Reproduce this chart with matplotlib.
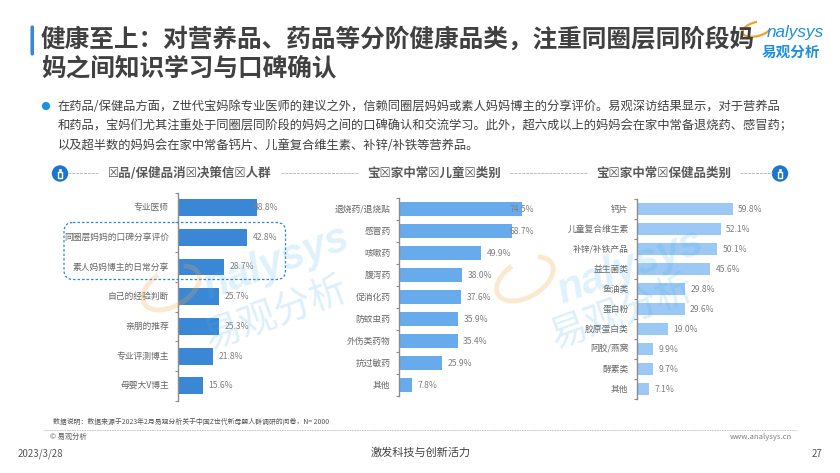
import matplotlib
matplotlib.use("Agg")
import matplotlib.pyplot as plt
from matplotlib.patches import Arc, Circle, FancyBboxPatch, Rectangle

plt.rcParams["font.family"] = ["Noto Sans CJK SC", "DejaVu Sans"]

W, H = 840, 473

# Dados
medico_cats = ["专业医师", "同圈层妈妈的口碑分享评价", "素人妈妈博主的日常分享", "自己的经验判断",
               "亲朋的推荐", "专业评测博主", "母婴大V博主"]
medico_vals = [48.8, 42.8, 28.7, 25.7, 25.3, 21.8, 15.6]

remedio_cats = ["退烧药/退烧贴", "感冒药", "咳嗽药", "腹泻药", "促消化药", "防蚊虫药",
                "外伤类药物", "抗过敏药", "其他"]
remedio_vals = [74.5, 68.7, 49.9, 38.0, 37.6, 35.9, 35.4, 25.9, 7.8]

saude_cats = ["钙片", "儿童复合维生素", "补锌/补铁产品", "益生菌类", "鱼油类", "蛋白粉",
              "胶原蛋白类", "阿胶/燕窝", "酵素类", "其他"]
saude_vals = [59.8, 52.1, 50.1, 45.6, 29.8, 29.6, 19.0, 9.9, 9.7, 7.1]

titulo = ["健康至上：对营养品、药品等分阶健康品类，注重同圈层同阶段妈", "妈之间知识学习与口碑确认"]
corpo = ["在药品/保健品方面，Z世代宝妈除专业医师的建议之外，信赖同圈层妈妈或素人妈妈博主的分享评价。易观深访结果显示，对于营养品",
         "和药品，宝妈们尤其注重处于同圈层同阶段的妈妈之间的口碑确认和交流学习。此外，超六成以上的妈妈会在家中常备退烧药、感冒药；",
         "以及超半数的妈妈会在家中常备钙片、儿童复合维生素、补锌/补铁等营养品。"]
subtitulos = ["☒品/保健品消☒决策信☒人群", "宝☒家中常☒儿童☒类别", "宝☒家中常☒保健品类别"]

CINZA = "#7f7f7f"
fig = plt.figure(figsize=(W / 100, H / 100), dpi=100, facecolor="white")


def barras(cats, vals, x0, y0, y1, escala, cor, limite, altura):
    """Eixo de barras horizontais posicionado em pixels"""
    xmax = 80
    ax = fig.add_axes([x0 / W, 1 - y1 / H, xmax * escala / W, (y1 - y0) / H], zorder=1)
    pos = list(range(len(cats)))
    ax.barh(pos, vals, height=altura, color=cor)
    ax.set_xlim(0, xmax)
    ax.set_ylim(len(cats) - 0.5, -0.5)
    ax.patch.set_alpha(0)
    for s in ["top", "right", "bottom"]:
        ax.spines[s].set_visible(False)
    ax.spines["left"].set_color("#8c8c8c")
    ax.spines["left"].set_linewidth(1.0)
    ax.set_xticks([])
    ax.set_yticks([p - 0.5 for p in pos] + [len(cats) - 0.5])
    ax.set_yticklabels([])
    ax.tick_params(axis="y", length=2.5, width=0.8, color="#8c8c8c")
    for p, c, v in zip(pos, cats, vals):
        ax.text(-8.7 / escala, p, c, ha="right", va="center", fontsize=6.3, color="#666666")
        ax.text(min(v + 3.4, limite), p, "%.1f%%" % v, ha="left", va="center", fontsize=6.2, color=CINZA)
    return ax


barras(medico_cats, medico_vals, 177.7, 192.7, 400.7, 1.625, "#3a87d6", 46.8, 0.57)
barras(remedio_cats, remedio_vals, 399.3, 198, 396, 1.647, "#68abec", 67, 0.6)
barras(saude_cats, saude_vals, 637.3, 199.3, 399.3, 1.6, "#9bc8f4", 63, 0.6)

# Camada de pagina em pixels
pg = fig.add_axes([0, 0, 1, 1], zorder=5)
pg.set_xlim(0, W)
pg.set_ylim(H, 0)
pg.axis("off")

# Titulo
pg.add_patch(FancyBboxPatch((31, 26), 2.5, 29, boxstyle="round,pad=0,rounding_size=1.2",
                            fc="#3a87d6", ec="#3a87d6", lw=0.8))
pg.text(41, 39.5, titulo[0], fontsize=17.75, fontweight="bold", color="#404040", va="center")
pg.text(41, 68, titulo[1], fontsize=17.75, fontweight="bold", color="#404040", va="center")

# Texto
pg.add_patch(Circle((46, 106), 3.4, color="#1f8fe0"))
for y, linha in zip([106, 125.5, 145.5], corpo):
    pg.text(58, y, linha, fontsize=8.85, color="#404040", va="center")

# Subtitulos
for cx, t in zip([190, 434, 664], subtitulos):
    pg.text(cx, 173, t, fontsize=9, fontweight="bold", color="#595959", ha="center", va="center")
for x0, x1 in [(68, 99), (281, 358), (510, 588), (740, 772)]:
    pg.plot([x0, x1], [173.5, 173.5], color="#bdbdbd", lw=0.7, ls=(0, (3, 1)))
for cx in [60, 780]:
    pg.add_patch(Circle((cx, 173.5), 7.5, color="#1b76cf"))
    pg.add_patch(Rectangle((cx - 2.2, 171.5), 4.4, 6, fc="none", ec="white", lw=1))
    pg.add_patch(Rectangle((cx - 1.2, 168.5), 2.4, 2, fc="white", ec="white", lw=0.5))

# Destaque tracejado
pg.add_patch(FancyBboxPatch((64, 222.5), 221.5, 57, boxstyle="round,pad=0,rounding_size=9",
                            fc="none", ec="#2f86d8", lw=0.9, ls=(0, (2, 1.6))))

# Marca d'agua
AZUL_WM = "#4fb0ea"
for cx, cy, cx2, cy2, acx, acy in [(276, 263, 276, 314, 171, 288), (630, 267, 622, 313, 525, 279)]:
    pg.text(cx, cy, "nalysys", fontsize=30, family=["Liberation Sans", "DejaVu Sans"], style="italic", fontweight="bold",
            color=AZUL_WM, alpha=0.18, rotation=20, ha="center", va="center")
    pg.text(cx2, cy2, "易观分析", fontsize=27, color=AZUL_WM, alpha=0.2,
            rotation=20, ha="center", va="center")
    pg.add_patch(Arc((acx, acy), 62, 36, angle=-30, theta1=-30, theta2=255, color="#f5a742", alpha=0.25, lw=3.5))

# Logo
pg.add_patch(Arc((757, 29), 30, 14, angle=-15, theta1=15, theta2=285, color="#f0a02c", lw=1.6))
pg.text(795, 33, "nalysys", fontsize=12.3, family=["Liberation Sans", "DejaVu Sans"], style="italic",
        color="#1f8fe0", ha="center", va="center")
pg.text(790.5, 52, "易观分析", fontsize=10.5, fontweight="bold", color="#1f8fe0", ha="center", va="center")

# Rodape
pg.text(53, 422, "数据说明：数据来源于2023年2月易观分析关于中国Z世代新母婴人群调研的问卷，N= 2000",
        fontsize=4.95, color="#555555", va="center")
pg.plot([44, 797], [429.5, 429.5], color="#bdbdbd", lw=0.6, ls=(0, (2, 1)))
pg.text(50, 437, "© 易观分析", fontsize=5.2, color="#595959", va="center")
pg.text(792, 437, "www.analysys.cn", fontsize=5.5, color="#7f7f7f", ha="right", va="center")
pg.text(18, 454, "2023/3/28", fontsize=7, color="#555555", va="center")
pg.text(421, 453, "激发科技与创新活力", fontsize=8, color="#404040", ha="center", va="center")
pg.text(822, 454, "27", fontsize=7, color="#555555", ha="right", va="center")

fig.savefig("out.png", dpi=100)
